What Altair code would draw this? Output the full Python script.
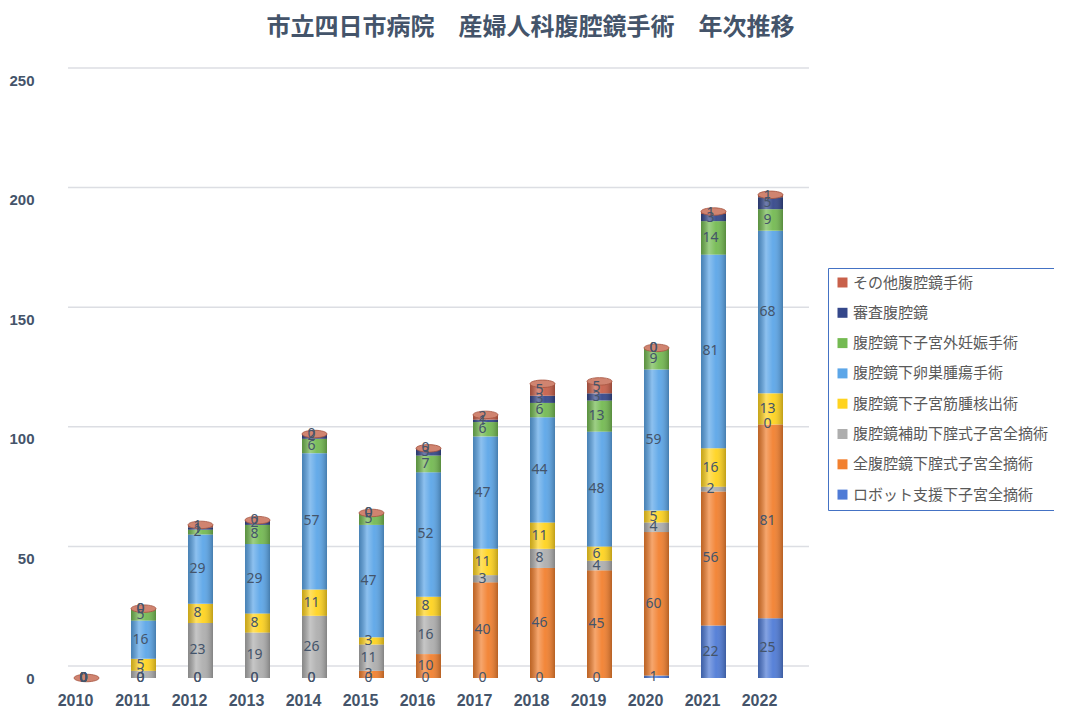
import altair as alt
import pandas as pd

years = [str(y) for y in range(2010, 2023)]
series = [
    "ロボット支援下子宮全摘術",
    "全腹腔鏡下腟式子宮全摘術",
    "腹腔鏡補助下腟式子宮全摘術",
    "腹腔鏡下子宮筋腫核出術",
    "腹腔鏡下卵巣腫瘍手術",
    "腹腔鏡下子宮外妊娠手術",
    "審査腹腔鏡",
    "その他腹腔鏡手術",
]
robot   = [0, 0, 0, 0, 0, 0, 0, 0, 0, 0, 1, 22, 25]
tlh     = [0, 0, 0, 0, 0, 3, 10, 40, 46, 45, 60, 56, 81]
lavh    = [0, 3, 23, 19, 26, 11, 16, 3, 8, 4, 4, 2, 0]
myoma   = [0, 5, 8, 8, 11, 3, 8, 11, 11, 6, 5, 16, 13]
ovary   = [0, 16, 29, 29, 57, 47, 52, 47, 44, 48, 59, 81, 68]
ectopic = [0, 5, 2, 8, 6, 5, 7, 6, 6, 13, 9, 14, 9]
diag    = [0, 0, 1, 2, 2, 0, 3, 1, 3, 3, 0, 3, 5]
other   = [0, 0, 1, 0, 0, 0, 0, 2, 5, 5, 0, 1, 1]
colors = ["#4F7BD6", "#F2802F", "#AEAEAE", "#FFD31F", "#5CA6E8", "#74BA52", "#34478A", "#C8604A"]
tick_values = [0, 50, 100, 150, 200, 250]

values = [robot, tlh, lavh, myoma, ovary, ectopic, diag, other]
rows = []
for i, (s, vals) in enumerate(zip(series, values)):
    for y, v in zip(years, vals):
        rows.append({"year": y, "series": s, "value": v, "idx": i})
df = pd.DataFrame(rows)
grid_df = pd.DataFrame({"tick": tick_values})

legend_order = series[::-1]
legend_colors = colors[::-1]

base = alt.Chart(df)

x_enc = alt.X(
    "year:N",
    title=None,
    scale=alt.Scale(paddingInner=0.56, paddingOuter=0.28),
    axis=alt.Axis(labelAngle=0, labelFontSize=16, labelFontWeight="bold",
                  labelColor="#44546A", labelFont="Liberation Sans",
                  domain=False, ticks=False, labelOffset=-11, labelPadding=14),
)
y_scale = alt.Scale(domain=[0, 250])

grid = alt.Chart(grid_df).mark_rule(color="#DCDEE3", strokeWidth=1.5, yOffset=-12).encode(
    y=alt.Y("tick:Q", scale=y_scale),
    x=alt.value(10),
    x2=alt.value(751),
)

bars = base.mark_bar(size=25).encode(
    x=x_enc,
    y=alt.Y("value:Q", stack="zero", title=None, scale=y_scale,
            axis=alt.Axis(values=tick_values, grid=False, domain=False, ticks=False,
                          labelPadding=24, labelFontSize=15, labelFontWeight="bold",
                          labelColor="#44546A", labelFont="Liberation Sans")),
    color=alt.Color("series:N", scale=alt.Scale(domain=legend_order, range=legend_colors),
                    legend=alt.Legend(title=None, orient="none", legendX=770, legendY=188,
                                      strokeColor="#4472C4", fillColor="white", padding=7,
                                      symbolType="square", symbolSize=100, symbolStrokeWidth=0,
                                      labelFontSize=15, labelColor="#595959",
                                      labelFont="Noto Sans CJK JP", rowPadding=14.3,
                                      labelLimit=400, labelOffset=3)),
    order=alt.Order("idx:Q", sort="ascending"),
)

shade = alt.Gradient(
    gradient="linear", x1=0, x2=1, y1=0, y2=0,
    stops=[
        alt.GradientStop(color="rgba(0,0,0,0.22)", offset=0),
        alt.GradientStop(color="rgba(255,255,255,0.30)", offset=0.32),
        alt.GradientStop(color="rgba(255,255,255,0.05)", offset=0.6),
        alt.GradientStop(color="rgba(0,0,0,0.25)", offset=1),
    ],
)

totals = base.transform_aggregate(total="sum(value)", groupby=["year"])

overlay = totals.mark_bar(size=25, fill=shade).encode(
    x=alt.X("year:N"),
    y=alt.Y("total:Q", scale=y_scale),
)

ellipse = "M -1 0 A 1 0.3 0 1 0 1 0 A 1 0.3 0 1 0 -1 0 Z"
caps = totals.mark_point(shape=ellipse, size=625, filled=True, fill="#D08470",
                         stroke="#A5533F", strokeWidth=0.8, opacity=1).encode(
    x=alt.X("year:N"),
    y=alt.Y("total:Q", scale=y_scale),
)

labels = base.transform_stack(
    stack="value", groupby=["year"], as_=["y0", "y1"],
    sort=[alt.SortField("idx", order="ascending")],
).transform_calculate(
    mid="(datum.y0 + datum.y1) / 2"
).mark_text(fontSize=14, color="#44546A", font="Noto Sans", dx=-3).encode(
    x=alt.X("year:N"),
    y=alt.Y("mid:Q", scale=y_scale),
    text=alt.Text("value:Q"),
)

chart = alt.layer(grid, bars, overlay, caps, labels).properties(
    width=741,
    height=598,
    title=alt.TitleParams(
        "市立四日市病院　産婦人科腹腔鏡手術　年次推移",
        fontSize=24, fontWeight="bold", color="#44546A", font="Noto Sans CJK JP",
        anchor="middle", dx=102, offset=27,
    ),
    autosize=alt.AutoSizeParams(type="none"),
    padding={"left": 50, "top": 72, "right": 255, "bottom": 30},
).configure_view(stroke=None)

chart.save("out.html", embed_options={"renderer": "svg", "actions": False})
